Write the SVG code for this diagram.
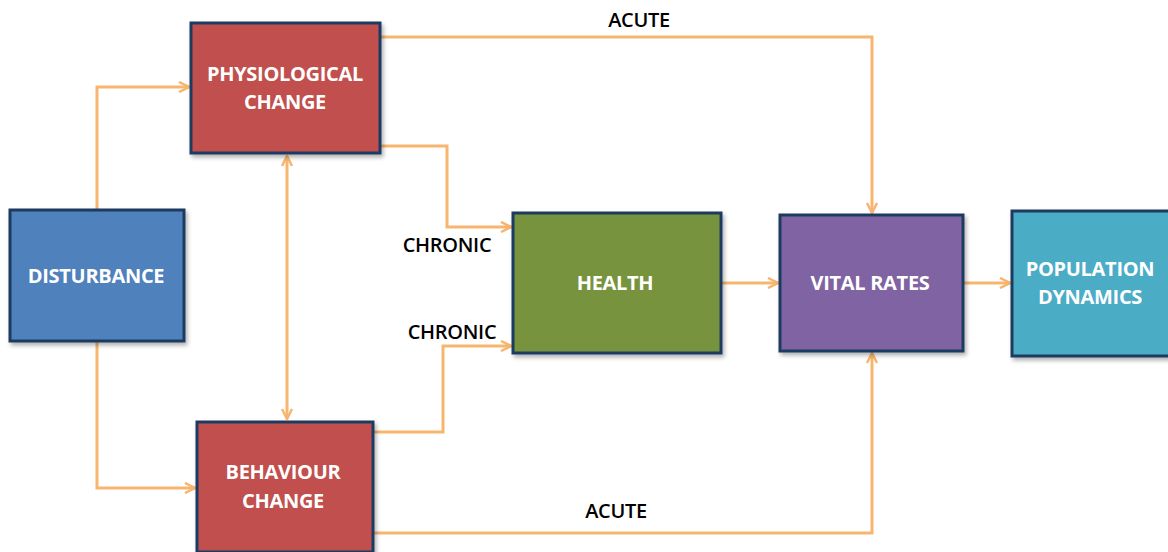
<svg xmlns="http://www.w3.org/2000/svg" width="1168" height="552" viewBox="0 0 1168 552">
<style>
.box{stroke:#1F3A60;stroke-width:3;filter:url(#sh)}
.t{font-family:"Open Sans","Liberation Sans",sans-serif;font-weight:bold;font-size:20px;fill:#FFFFFF;text-anchor:middle;letter-spacing:-0.3px}
.l{font-family:"Open Sans","Liberation Sans",sans-serif;font-weight:600;font-size:20px;fill:#000000;text-anchor:middle;letter-spacing:-0.3px}
.c{fill:none;stroke:#F8B56F;stroke-width:3;stroke-linejoin:miter}
</style>
<defs>
<filter id="sh" x="-10%" y="-10%" width="130%" height="130%">
<feDropShadow dx="2" dy="3" stdDeviation="2" flood-color="#000" flood-opacity="0.3"/>
</filter>
<marker id="ah" viewBox="0 0 12 12" refX="11" refY="6" markerWidth="12" markerHeight="12" markerUnits="userSpaceOnUse" orient="auto-start-reverse">
<path d="M1,1 L11,6 L1,11" fill="none" stroke="#F8B56F" stroke-width="2.5"/>
</marker>
</defs>
<rect width="1168" height="552" fill="#FFFFFF"/>
<g id="connectors">
<path class="c" d="M97,210 V87 H189" marker-end="url(#ah)"/>
<path class="c" d="M97,341 V488 H195" marker-end="url(#ah)"/>
<path class="c" d="M287,156 V419" marker-start="url(#ah)" marker-end="url(#ah)"/>
<path class="c" d="M380,37 H872 V213" marker-end="url(#ah)"/>
<path class="c" d="M380,146 H447 V227 H511" marker-end="url(#ah)"/>
<path class="c" d="M373,432 H443 V346 H511" marker-end="url(#ah)"/>
<path class="c" d="M373,533 H872 V353" marker-end="url(#ah)"/>
<path class="c" d="M721,283 H778" marker-end="url(#ah)"/>
<path class="c" d="M963,283 H1010" marker-end="url(#ah)"/>
<text class="l" x="639" y="27">ACUTE</text>
<text class="l" x="447" y="252">CHRONIC</text>
<text class="l" x="452" y="339">CHRONIC</text>
<text class="l" x="616" y="518">ACUTE</text>
</g>
<g id="physiological">
<rect class="box" x="191" y="23" width="189" height="130" fill="#C0504D"/>
<text class="t" x="285" y="81">PHYSIOLOGICAL</text>
<text class="t" x="285" y="109">CHANGE</text>
</g>
<g id="disturbance">
<rect class="box" x="10" y="210" width="174" height="131" fill="#4F81BD"/>
<text class="t" x="96" y="283">DISTURBANCE</text>
</g>
<g id="behaviour">
<rect class="box" x="197" y="422" width="176" height="130" fill="#C0504D"/>
<text class="t" x="283" y="479">BEHAVIOUR</text>
<text class="t" x="283" y="508">CHANGE</text>
</g>
<g id="health">
<rect class="box" x="513" y="213" width="208" height="140" fill="#77933C"/>
<text class="t" x="615" y="290">HEALTH</text>
</g>
<g id="vital">
<rect class="box" x="780" y="215" width="183" height="136" fill="#8064A2"/>
<text class="t" x="870" y="290">VITAL RATES</text>
</g>
<g id="population">
<rect class="box" x="1012" y="211" width="160" height="145" fill="#4BACC6"/>
<text class="t" x="1090" y="276">POPULATION</text>
<text class="t" x="1090" y="304">DYNAMICS</text>
</g>
</svg>
